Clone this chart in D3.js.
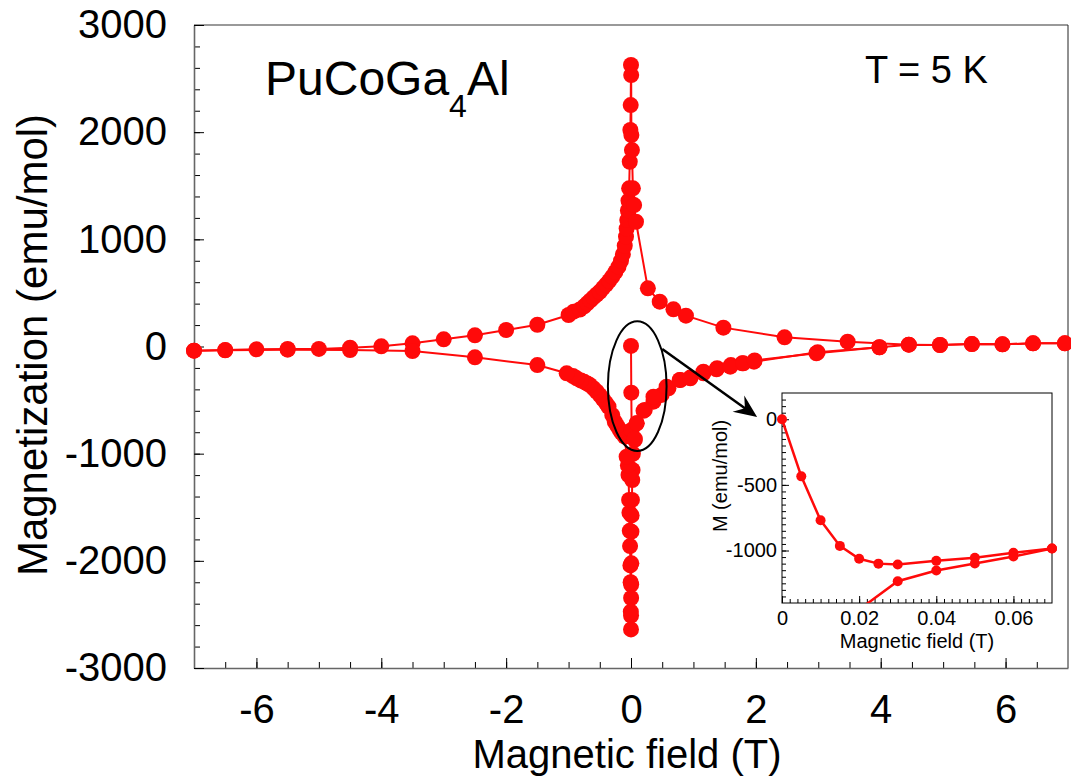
<!DOCTYPE html>
<html><head><meta charset="utf-8">
<script src="https://cdn.jsdelivr.net/npm/d3@7"></script>
<style>
body{margin:0;background:#fff;}
svg{display:block;font-family:"Liberation Sans",Arial,sans-serif;}
</style></head><body>
<svg id="chart" width="1071" height="778"></svg>
<script>
// ---------- data ----------
// increasing sweep, negative side (-7 T -> 0)
const upField = [-7,-6.5,-6,-5.5,-5,-4.5,-4,-3.5,-3,-2.5,-2,-1.5,-1,-0.92,-0.82,-0.75,-0.7,-0.65,-0.6,-0.55,-0.5,-0.45,-0.4,-0.35,-0.3,-0.25,-0.2,-0.16,-0.13,-0.1,-0.08,-0.07,-0.06,-0.05,-0.04,-0.03,-0.02,-0.01,-0.005,0];
const upMoment = [-39,-33,-26,-23,-23,-11,2,30,67,104,154,203,294,325,345,375,403,430,458,485,511,545,578,612,652,695,745,800,860,940,1025,1100,1180,1270,1360,1476,1724,2020,2253,2627];
// increasing sweep, positive side (0 -> 7 T)
const upPosField = [0.003,0.006,0.015,0.03,0.05,0.08,0.27,0.46,0.68,0.88,1.48,2.46,3.47,4.45,4.95,5.46,5.95,6.44,6.95];
const upPosMoment = [2533,1973,1833,1476,1320,1164,543,418,347,288,176,86,45,17,14,23,20,30,30];
// decreasing sweep, positive side (7 T -> 0)
const downField = [6.95,6.44,5.95,5.46,4.95,4.45,3.98,2.99,1.97,1.78,1.6,1.38,1.16,0.95,0.79,0.6,0.49,0.36,0.22,0.09,0.06,0.03,0.025,0.02,0.015,0.01,0.007,0.005,0.003,0.002,0.001,0];
const downMoment = [30,30,20,23,14,17,-7,-54,-142,-157,-173,-203,-235,-297,-313,-390,-452,-515,-592,-717,-872,-1001,-1152,-1246,-1432,-1576,-1728,-2023,-2222,-2347,-2510,-2640];
// decreasing sweep, negative side (0 -> -7 T)
const negField = [-0.003,-0.006,-0.01,-0.015,-0.02,-0.025,-0.03,-0.04,-0.05,-0.07,-0.1,-0.15,-0.18,-0.22,-0.26,-0.3,-0.36,-0.4,-0.45,-0.5,-0.55,-0.6,-0.66,-0.7,-0.75,-0.8,-0.87,-0.93,-1.03,-1.5,-2.5,-3.5,-4.5,-5.5,-6.5,-7];
const negMoment = [-2475,-2200,-2043,-1862,-1720,-1551,-1432,-1199,-1110,-1028,-840,-805,-779,-740,-702,-640,-562,-528,-490,-453,-420,-390,-359,-345,-330,-318,-297,-275,-250,-173,-101,-42,-33,-30,-35,-39];
// virgin curve
const virginField = [0,0.005,0.01,0.06,0.09,0.2,0.36,0.57,0.78,0.95,1.16,1.37,1.59,1.8,1.98,2.97,3.98];
const virginMoment = [5,-431,-779,-860,-717,-600,-468,-375,-312,-290,-250,-213,-188,-157,-130,-63,-7];
// inset
const insetVirginField = [0,0.005,0.01,0.015,0.02,0.025,0.03,0.04,0.05,0.06,0.07];
const insetVirginMoment = [0,-435,-770,-965,-1063,-1100,-1107,-1079,-1056,-1018,-985];
const insetReturnField = [0.07,0.06,0.05,0.04,0.03,0.02];
const insetReturnMoment = [-985,-1046,-1099,-1152,-1234,-1450];

// ticks / labels
const xMajor = [-6,-4,-2,0,2,4,6];
const xMajorLabels = ["-6","-4","-2","0","2","4","6"];
const yMajor = [-3000,-2000,-1000,0,1000,2000,3000];
const yMajorLabels = ["-3000","-2000","-1000","0","1000","2000","3000"];
const insetXMajor = [0,0.02,0.04,0.06];
const insetXLabels = ["0","0.02","0.04","0.06"];
const insetYMajor = [-1000,-500,0];
const insetYLabels = ["-1000","-500","0"];

// annotations (data units)
const ellipseCenter = [0.1,-370];
const ellipseRadii = [0.47,605];
const arrowFrom = [0.5,-23];
const arrowTo = [2.02,-658];

// ---------- drawing ----------
const RED = "#ff0a0a";
const svg = d3.select("#chart");
const x = d3.scaleLinear().domain([-7,7]).range([194,1068]);
const y = d3.scaleLinear().domain([-3000,3000]).range([668,25]);

function styleAxis(g, size){
  g.attr("font-family",'"Liberation Sans",Arial,sans-serif').attr("font-size",size);
  g.selectAll(".tick line").attr("stroke","#000").attr("stroke-width",1);
  g.selectAll(".tick text").attr("fill","#000");
}

// frame
svg.append("line").attr("x1",x(-7)).attr("x2",x(7)).attr("y1",y(3000)).attr("y2",y(3000)).attr("stroke","#777").attr("stroke-width",1.3);
svg.append("line").attr("x1",x(7)).attr("x2",x(7)).attr("y1",y(3000)).attr("y2",y(-3000)).attr("stroke","#222").attr("stroke-width",1);

// x axis
const gxMinor = svg.append("g").attr("transform",`translate(0,${y(-3000)})`)
  .call(d3.axisBottom(x).tickValues(d3.range(-6.5,7,0.5)).tickSize(-6).tickSizeOuter(0).tickFormat(""));
gxMinor.select(".domain").remove();
styleAxis(gxMinor,40);
const gx = svg.append("g").attr("transform",`translate(0,${y(-3000)})`)
  .call(d3.axisBottom(x).tickValues(xMajor).tickSize(-10).tickSizeOuter(0).tickPadding(27).tickFormat((d,i)=>xMajorLabels[i]));
styleAxis(gx,40);
gx.select(".domain").attr("stroke","#666").attr("stroke-width",1.6);

// y axis
const gyMinor = svg.append("g").attr("transform",`translate(${x(-7)},0)`)
  .call(d3.axisLeft(y).tickValues(d3.range(-2800,3000,200)).tickSize(-6).tickSizeOuter(0).tickFormat(""));
gyMinor.select(".domain").remove();
styleAxis(gyMinor,40);
const gy = svg.append("g").attr("transform",`translate(${x(-7)},0)`)
  .call(d3.axisLeft(y).tickValues(yMajor).tickSize(-10).tickSizeOuter(0).tickPadding(27).tickFormat((d,i)=>yMajorLabels[i]));
styleAxis(gy,40);
gy.select(".domain").attr("stroke","#666").attr("stroke-width",1.6);

// axis titles
svg.append("text").attr("x",627).attr("y",768).attr("text-anchor","middle").attr("font-size",40).text("Magnetic field (T)");
svg.append("text").attr("transform","translate(47,345) rotate(-90)").attr("text-anchor","middle").attr("font-size",42).text("Magnetization (emu/mol)");

// main data
const line = d3.line().x(d=>x(d[0])).y(d=>y(d[1]));
const branches = [
  d3.zip(upField.concat(upPosField), upMoment.concat(upPosMoment)),
  d3.zip(downField.concat(negField), downMoment.concat(negMoment)),
  d3.zip(virginField, virginMoment)
];
const gData = svg.append("g");
branches.forEach(b=>{
  gData.append("path").attr("d",line(b)).attr("fill","none").attr("stroke",RED).attr("stroke-width",2);
});
branches.forEach(b=>{
  gData.selectAll(null).data(b).enter().append("circle")
    .attr("cx",d=>x(d[0])).attr("cy",d=>y(d[1])).attr("r",8).attr("fill",RED);
});

// labels
const title = svg.append("text").attr("x",265).attr("y",95).attr("font-size",48);
title.append("tspan").text("PuCoGa");
title.append("tspan").attr("font-size",32).attr("dy",22).text("4");
title.append("tspan").attr("dy",-22).text("Al");
svg.append("text").attr("x",865).attr("y",83).attr("font-size",38).text("T = 5 K");

// ellipse + arrow
svg.append("ellipse")
  .attr("cx",x(ellipseCenter[0])).attr("cy",y(ellipseCenter[1]))
  .attr("rx",x(ellipseRadii[0])-x(0)).attr("ry",y(0)-y(ellipseRadii[1]))
  .attr("fill","none").attr("stroke","#000").attr("stroke-width",2);
const ax0 = x(arrowFrom[0]), ay0 = y(arrowFrom[1]), ax1 = x(arrowTo[0]), ay1 = y(arrowTo[1]);
const ang = Math.atan2(ay1-ay0, ax1-ax0)*180/Math.PI;
const alen = Math.hypot(ax1-ax0, ay1-ay0);
const ga = svg.append("g").attr("transform",`translate(${ax0},${ay0}) rotate(${ang})`);
ga.append("line").attr("x1",0).attr("y1",0).attr("x2",alen-12).attr("y2",0).attr("stroke","#000").attr("stroke-width",2.5);
ga.append("path").attr("d",`M${alen},0 L${alen-23},-10 L${alen-15},0 L${alen-23},10 Z`).attr("fill","#000");

// ---------- inset ----------
const xi = d3.scaleLinear().domain([0,0.07]).range([782,1052]);
const yi = d3.scaleLinear().domain([-1400,200]).range([603,393]);
svg.append("rect").attr("x",xi(0)).attr("y",yi(200)).attr("width",xi(0.07)-xi(0)).attr("height",yi(-1400)-yi(200))
  .attr("fill","#fff").attr("stroke","#000").attr("stroke-width",1);

const gixMinor = svg.append("g").attr("transform",`translate(0,${yi(-1400)})`)
  .call(d3.axisBottom(xi).tickValues(d3.range(0.002,0.0695,0.002)).tickSize(-4).tickSizeOuter(0).tickFormat(""));
gixMinor.select(".domain").remove(); styleAxis(gixMinor,20);
const gix = svg.append("g").attr("transform",`translate(0,${yi(-1400)})`)
  .call(d3.axisBottom(xi).tickValues(insetXMajor).tickSize(-7).tickSizeOuter(0).tickPadding(8).tickFormat((d,i)=>insetXLabels[i]));
gix.select(".domain").remove(); styleAxis(gix,20);
const giyMinor = svg.append("g").attr("transform",`translate(${xi(0)},0)`)
  .call(d3.axisLeft(yi).tickValues(d3.range(-1350,200,50)).tickSize(-4).tickSizeOuter(0).tickFormat(""));
giyMinor.select(".domain").remove(); styleAxis(giyMinor,20);
const giy = svg.append("g").attr("transform",`translate(${xi(0)},0)`)
  .call(d3.axisLeft(yi).tickValues(insetYMajor).tickSize(-7).tickSizeOuter(0).tickPadding(5).tickFormat((d,i)=>insetYLabels[i]));
giy.select(".domain").remove(); styleAxis(giy,20);

svg.append("text").attr("x",917).attr("y",648).attr("text-anchor","middle").attr("font-size",20).text("Magnetic field (T)");
svg.append("text").attr("transform","translate(727,476) rotate(-90)").attr("text-anchor","middle").attr("font-size",20).text("M (emu/mol)");

svg.append("clipPath").attr("id","insetClip").append("rect").attr("x",770).attr("y",380).attr("width",300).attr("height",yi(-1400)-380);
const gi = svg.append("g").attr("clip-path","url(#insetClip)");
const lineI = d3.line().x(d=>xi(d[0])).y(d=>yi(d[1]));
const insetBranches = [d3.zip(insetVirginField,insetVirginMoment), d3.zip(insetReturnField,insetReturnMoment)];
insetBranches.forEach(b=>{
  gi.append("path").attr("d",lineI(b)).attr("fill","none").attr("stroke",RED).attr("stroke-width",2.5);
});
insetBranches.forEach(b=>{
  gi.selectAll(null).data(b).enter().append("circle")
    .attr("cx",d=>xi(d[0])).attr("cy",d=>yi(d[1])).attr("r",5).attr("fill",RED);
});
</script>
</body></html>
